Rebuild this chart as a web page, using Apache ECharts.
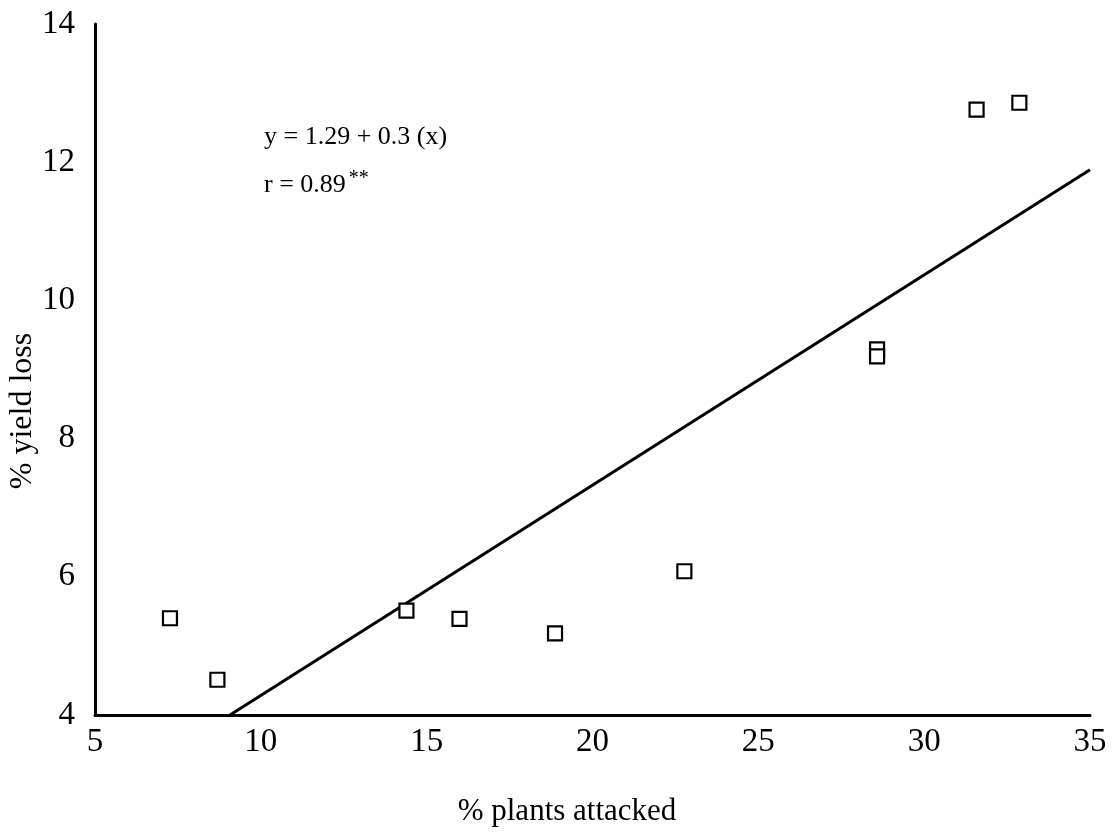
<!DOCTYPE html>
<html>
<head>
<meta charset="utf-8">
<script src="https://cdn.jsdelivr.net/npm/echarts@6/dist/echarts.min.js"></script>
<style>html,body{margin:0;padding:0;background:#fff}#c{width:1118px;height:834px}</style>
</head>
<body>
<div id="c"></div>
<script>
const plantsAttacked = [7.26, 8.69, 14.39, 15.99, 18.87, 22.77, 28.58, 28.58, 31.58, 32.87];
const yieldLoss = [5.40, 4.51, 5.51, 5.39, 5.18, 6.08, 9.29, 9.19, 12.76, 12.86];
const fitLineX = [9.07, 35];
const fitLineY = [4.0, 11.89];
const xTicks = [5, 10, 15, 20, 25, 30, 35];
const yTicks = [4, 6, 8, 10, 12, 14];
const xTitle = '% plants attacked';
const yTitle = '% yield loss';
const equationText = 'y = 1.29 + 0.3 (x)';
const rText = 'r = 0.89';
const rSig = '**';

const font = 'Liberation Serif';
const chart = echarts.init(document.getElementById('c'));
chart.setOption({
  animation: false,
  backgroundColor: '#fff',
  grid: { left: 95, right: 28, top: 24, bottom: 119 },
  xAxis: {
    type: 'value', min: xTicks[0], max: xTicks[xTicks.length - 1], interval: 5,
    axisLine: { lineStyle: { color: '#000', width: 3 } },
    axisTick: { show: false }, splitLine: { show: false },
    axisLabel: { color: '#000', fontFamily: font, fontSize: 33, margin: 11 }
  },
  yAxis: {
    type: 'value', min: yTicks[0], max: yTicks[yTicks.length - 1], interval: 2,
    axisLine: { show: true, lineStyle: { color: '#000', width: 3 } },
    axisTick: { show: false }, splitLine: { show: false },
    axisLabel: { color: '#000', fontFamily: font, fontSize: 33, margin: 20 }
  },
  graphic: [
    { type: 'text', x: 567, y: 812, style: { text: xTitle, font: '31px "Liberation Serif"', fill: '#000', align: 'center', verticalAlign: 'middle' } },
    { type: 'text', x: 23, y: 411, rotation: Math.PI / 2, style: { text: yTitle, font: '32px "Liberation Serif"', fill: '#000', align: 'center', verticalAlign: 'middle' } },
    { type: 'text', x: 264, y: 137, style: { text: equationText, font: '26px "Liberation Serif"', fill: '#000', align: 'left', verticalAlign: 'middle' } },
    { type: 'text', x: 264, y: 185, style: {
        text: '{a|' + rText + '}{b|' + rSig + '}',
        rich: { a: { fontFamily: font, fontSize: 26, color: '#000' }, b: { fontFamily: font, fontSize: 20, color: '#000', verticalAlign: 'top', padding: [0, 0, 12, 3] } },
        align: 'left', verticalAlign: 'middle' } }
  ],
  series: [
    {
      type: 'line', data: fitLineX.map((x, i) => [x, fitLineY[i]]),
      symbol: 'none', lineStyle: { color: '#000', width: 3 }, z: 2
    },
    {
      type: 'scatter', data: plantsAttacked.map((x, i) => [x, yieldLoss[i]]),
      symbol: 'rect', symbolSize: 14,
      itemStyle: { color: '#fff', borderColor: '#000', borderWidth: 2.2, opacity: 1 }, z: 3
    }
  ]
});
</script>
</body>
</html>
